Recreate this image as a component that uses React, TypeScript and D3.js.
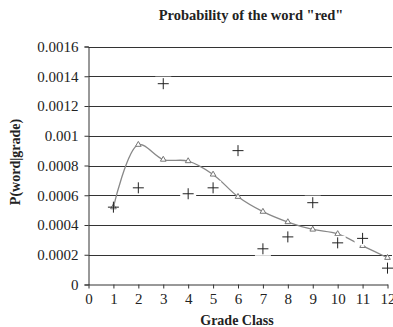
import React, { useEffect, useRef } from 'react';
import * as d3 from 'd3';

const grades = [1, 2, 3, 4, 5, 6, 7, 8, 9, 10, 11, 12];
const observed = [0.00052, 0.00065, 0.00135, 0.00061, 0.00065, 0.0009, 0.00024, 0.00032, 0.00055, 0.00028, 0.00031, 0.00011];
const smoothed = [0.00052, 0.00094, 0.00084, 0.00083, 0.00074, 0.00059, 0.00049, 0.00042, 0.00037, 0.00034, 0.00026, 0.00018];
const yTicks = [0, 0.0002, 0.0004, 0.0006, 0.0008, 0.001, 0.0012, 0.0014, 0.0016];
const xTicks = [0, 1, 2, 3, 4, 5, 6, 7, 8, 9, 10, 11, 12];

const W = 393;
const H = 327;

export default function App() {
  const ref = useRef<SVGSVGElement>(null);

  useEffect(() => {
    const svg = d3.select(ref.current);
    svg.selectAll('*').remove();
    const font = '"Liberation Serif", "Times New Roman", serif';

    const x = d3.scaleLinear().domain([0, 12]).range([88.5, 387.5]);
    const y = d3.scaleLinear().domain([0, 0.0016]).range([284.5, 46.5]);

    // grid lines
    svg.append('g')
      .selectAll('line')
      .data(yTicks.slice(1))
      .enter()
      .append('line')
      .attr('x1', x(0))
      .attr('x2', 392)
      .attr('y1', d => Math.round(y(d)) + 0.5)
      .attr('y2', d => Math.round(y(d)) + 0.5)
      .attr('stroke', '#333')
      .attr('stroke-width', 1);

    // y axis
    const yAxis = svg.append('g')
      .attr('transform', 'translate(' + x(0) + ',0)')
      .call(d3.axisLeft(y).tickValues(yTicks).tickSize(4).tickFormat(d => String(+d)));
    yAxis.attr('font-family', null).attr('font-size', null);
    yAxis.select('.domain').attr('stroke', '#333');
    yAxis.selectAll('line').attr('stroke', '#333');
    yAxis.selectAll('text')
      .style('font-family', font)
      .style('font-size', '15px')
      .attr('fill', '#222')
      .attr('x', -10);

    // x axis
    const xAxis = svg.append('g')
      .attr('transform', 'translate(0,' + y(0) + ')')
      .call(d3.axisBottom(x).tickValues(xTicks).tickSize(4).tickSizeOuter(0).tickFormat(d => String(d)));
    xAxis.attr('font-family', null).attr('font-size', null);
    xAxis.select('.domain').attr('stroke', '#333');
    xAxis.selectAll('line').attr('stroke', '#333');
    xAxis.selectAll('text')
      .style('font-family', font)
      .style('font-size', '15px')
      .attr('fill', '#222')
      .attr('y', 9);

    // smoothed line
    const line = d3.line<number>()
      .x((d, i) => x(grades[i]))
      .y(d => y(d))
      .curve(d3.curveCatmullRom.alpha(0.5));
    svg.append('path')
      .datum(smoothed)
      .attr('d', line)
      .attr('fill', 'none')
      .attr('stroke', '#888')
      .attr('stroke-width', 1.3);

    const tri = d3.symbol().type(d3.symbolTriangle).size(14);
    svg.append('g')
      .selectAll('path')
      .data(smoothed)
      .enter()
      .append('path')
      .attr('d', tri)
      .attr('transform', (d, i) => 'translate(' + x(grades[i]) + ',' + y(d) + ')')
      .attr('fill', 'white')
      .attr('stroke', '#777')
      .attr('stroke-width', 1);

    // observed plus markers
    const plus = svg.append('g')
      .selectAll('g')
      .data(observed)
      .enter()
      .append('g')
      .attr('transform', (d, i) => 'translate(' + x(grades[i]) + ',' + y(d) + ')');
    plus.filter((d, i) => i > 0)
      .append('rect')
      .attr('x', -8)
      .attr('y', -7)
      .attr('width', 16)
      .attr('height', 14)
      .attr('fill', 'white');
    plus.append('path')
      .attr('d', 'M-5.5,0H5.5M0,-5.5V5.5')
      .attr('stroke', '#222')
      .attr('stroke-width', 1);

    // titles
    svg.append('text')
      .attr('x', 251)
      .attr('y', 20)
      .attr('text-anchor', 'middle')
      .style('font-family', font)
      .attr('font-weight', 'bold')
      .attr('font-size', 14.5)
      .attr('fill', '#222')
      .text('Probability of the word "red"');

    svg.append('text')
      .attr('x', 237)
      .attr('y', 325)
      .attr('text-anchor', 'middle')
      .style('font-family', font)
      .attr('font-weight', 'bold')
      .attr('font-size', 14)
      .attr('fill', '#222')
      .text('Grade Class');

    svg.append('text')
      .attr('transform', 'translate(20,162) rotate(-90)')
      .attr('text-anchor', 'middle')
      .style('font-family', font)
      .attr('font-weight', 'bold')
      .attr('font-size', 14)
      .attr('fill', '#222')
      .text('P(word|grade)');
  }, []);

  return (
    <svg
      ref={ref}
      width={W}
      height={H}
      style={{ position: 'absolute', left: 0, top: 0, background: 'white' }}
    />
  );
}
